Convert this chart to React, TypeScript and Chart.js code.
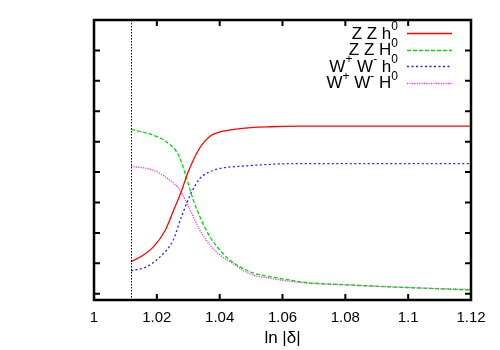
import React, { useEffect, useRef } from "react";
import { Chart, registerables } from "chart.js";

Chart.register(...registerables);

// ---- data ----
const ZZh_X = [1.0118, 1.0152, 1.0189, 1.0226, 1.0258, 1.0276, 1.0298, 1.0337, 1.0369, 1.0401, 1.0465, 1.0560, 1.0656, 1.08, 1.10, 1.12];
const ZZh_Y = [0.105, 0.124, 0.154, 0.207, 0.286, 0.330, 0.396, 0.480, 0.518, 0.532, 0.543, 0.549, 0.551, 0.551, 0.551, 0.551];

const ZZH_X = [1.0118, 1.0189, 1.0231, 1.0263, 1.0274, 1.0295, 1.0316, 1.0337, 1.0369, 1.0401, 1.0433, 1.0497, 1.0560, 1.0624, 1.0656, 1.0815, 1.1006, 1.12];
const ZZH_Y = [0.540, 0.521, 0.499, 0.466, 0.445, 0.379, 0.308, 0.253, 0.187, 0.143, 0.110, 0.072, 0.056, 0.045, 0.039, 0.029, 0.020, 0.012];

const WWh_X = [1.0118, 1.0168, 1.0210, 1.0252, 1.0277, 1.0306, 1.0337, 1.0369, 1.0401, 1.0465, 1.0656, 1.09, 1.12];
const WWh_Y = [0.075, 0.089, 0.121, 0.176, 0.249, 0.324, 0.379, 0.401, 0.412, 0.419, 0.428, 0.428, 0.428];

const WWH_X = [1.0118, 1.0189, 1.0242, 1.0274, 1.0306, 1.0337, 1.0369, 1.0401, 1.0433, 1.0497, 1.0560, 1.0656, 1.0815, 1.1006, 1.12];
const WWH_Y = [0.419, 0.406, 0.373, 0.340, 0.275, 0.209, 0.160, 0.127, 0.105, 0.065, 0.051, 0.037, 0.028, 0.020, 0.014];

const LABELS = ["Z Z h^0", "Z Z H^0", "W^+ W^- h^0", "W^+ W^- H^0"];
const COLORS = ["#ff0000", "#00dd00", "#2020ff", "#ff30ff"];
const DASHES: number[][] = [[], [4, 2], [2, 2.5], [1.2, 1.2]];

const X_TICKS = [1, 1.02, 1.04, 1.06, 1.08, 1.1, 1.12];
const Y_TICKS = [0, 0.1, 0.2, 0.3, 0.4, 0.5, 0.6, 0.7, 0.8, 0.9];
const X_MIN = 1;
const X_MAX = 1.12;
const Y_MIN = -0.0207;
const Y_MAX = 0.9;
const CUT_X = 1.0118;
const X_TITLE = "ln |δ|";

const SERIES_X = [ZZh_X, ZZH_X, WWh_X, WWH_X];
const SERIES_Y = [ZZh_Y, ZZH_Y, WWh_Y, WWH_Y];

function parseLabel(s: string): { t: string; sup: boolean }[] {
  const out: { t: string; sup: boolean }[] = [];
  let buf = "";
  for (let i = 0; i < s.length; i++) {
    if (s[i] === "^" && i + 1 < s.length) {
      if (buf) out.push({ t: buf, sup: false });
      buf = "";
      out.push({ t: s[i + 1], sup: true });
      i++;
    } else buf += s[i];
  }
  if (buf) out.push({ t: buf, sup: false });
  return out;
}

const FAMILY = "'Liberation Sans', Arial, sans-serif";
const MAIN_FONT = "17px " + FAMILY;
const SUP_FONT = "12px " + FAMILY;

const decorPlugin = {
  id: "decor",
  afterDraw(chart: any) {
    const ctx = chart.ctx;
    const a = chart.chartArea;
    const xs = chart.scales.x;
    const ys = chart.scales.y;
    ctx.save();
    // vertical dotted line
    ctx.strokeStyle = "#000";
    ctx.lineWidth = 1;
    ctx.setLineDash([1.5, 1.5]);
    const cx = Math.round(xs.getPixelForValue(CUT_X)) + 0.5;
    ctx.beginPath();
    ctx.moveTo(cx, a.top);
    ctx.lineTo(cx, a.bottom);
    ctx.stroke();
    ctx.setLineDash([]);

    // ticks (inward, mirrored)
    ctx.lineWidth = 2;
    const tl = 6;
    ctx.beginPath();
    for (const v of Y_TICKS) {
      const y = ys.getPixelForValue(v);
      ctx.moveTo(a.left, y);
      ctx.lineTo(a.left + tl, y);
      ctx.moveTo(a.right, y);
      ctx.lineTo(a.right - tl, y);
    }
    for (const v of X_TICKS) {
      const x = xs.getPixelForValue(v);
      ctx.moveTo(x, a.bottom);
      ctx.lineTo(x, a.bottom - tl);
      ctx.moveTo(x, a.top);
      ctx.lineTo(x, a.top + tl);
    }
    ctx.stroke();

    // border
    ctx.lineWidth = 2.5;
    ctx.strokeRect(a.left, a.top, a.right - a.left, a.bottom - a.top);

    // legend
    const rightText = 398;
    const lineX0 = 407;
    const lineX1 = 452;
    const baseline0 = 38.5;
    const step = 16.5;
    ctx.fillStyle = "#000";
    ctx.textBaseline = "alphabetic";
    ctx.textAlign = "left";
    LABELS.forEach((lab, i) => {
      const segs = parseLabel(lab);
      let w = 0;
      for (const s of segs) {
        ctx.font = s.sup ? SUP_FONT : MAIN_FONT;
        w += ctx.measureText(s.t).width;
      }
      let x = rightText - w;
      const by = baseline0 + i * step;
      for (const s of segs) {
        ctx.font = s.sup ? SUP_FONT : MAIN_FONT;
        ctx.fillText(s.t, x, s.sup ? by - 8.5 : by);
        x += ctx.measureText(s.t).width;
      }
      const ly = Math.round(by - 5.5) + 0.5;
      ctx.strokeStyle = COLORS[i];
      ctx.lineWidth = 1.3;
      ctx.setLineDash(DASHES[i]);
      ctx.beginPath();
      ctx.moveTo(lineX0, ly);
      ctx.lineTo(lineX1, ly);
      ctx.stroke();
      ctx.setLineDash([]);
    });

    // x title
    ctx.font = MAIN_FONT;
    ctx.textAlign = "center";
    ctx.fillStyle = "#000";
    ctx.fillText(X_TITLE, (a.left + a.right) / 2, 343);
    ctx.restore();
  },
};

export default function App() {
  const ref = useRef<HTMLCanvasElement | null>(null);
  useEffect(() => {
    if (!ref.current) return;
    const datasets = LABELS.map((lab, i) => ({
      label: lab.replace(/\^/g, ""),
      data: SERIES_X[i].map((x, j) => ({ x, y: SERIES_Y[i][j] })),
      borderColor: COLORS[i],
      backgroundColor: COLORS[i],
      borderWidth: 1.3,
      borderDash: DASHES[i],
      pointRadius: 0,
      fill: false,
      cubicInterpolationMode: "monotone" as const,
    }));
    const chart = new Chart(ref.current, {
      type: "line",
      data: { datasets },
      options: {
        animation: false,
        responsive: false,
        maintainAspectRatio: false,
        layout: { padding: { top: 20, right: 29, left: 0, bottom: 0 } },
        plugins: { legend: { display: false }, tooltip: { enabled: false } },
        scales: {
          x: {
            type: "linear",
            min: X_MIN,
            max: X_MAX,
            grid: { display: false, drawTicks: false },
            border: { display: false },
            ticks: {
              stepSize: 0.02,
              autoSkip: false,
              maxRotation: 0,
              padding: 9,
              color: "#000",
              font: { family: FAMILY, size: 15 },
              callback: (v: any) => String(+Number(v).toFixed(2)),
            },
            afterFit: (s: any) => {
              s.height = 50;
            },
          },
          y: {
            type: "linear",
            min: Y_MIN,
            max: Y_MAX,
            grid: { display: false, drawTicks: false },
            border: { display: false },
            ticks: { display: false },
            afterFit: (s: any) => {
              s.width = 94;
            },
          },
        },
      },
      plugins: [decorPlugin],
    });
    return () => chart.destroy();
  }, []);
  return (
    <div style={{ position: "absolute", left: 0, top: 0, width: 500, height: 350, background: "#fff" }}>
      <canvas ref={ref} width={500} height={350} />
    </div>
  );
}
